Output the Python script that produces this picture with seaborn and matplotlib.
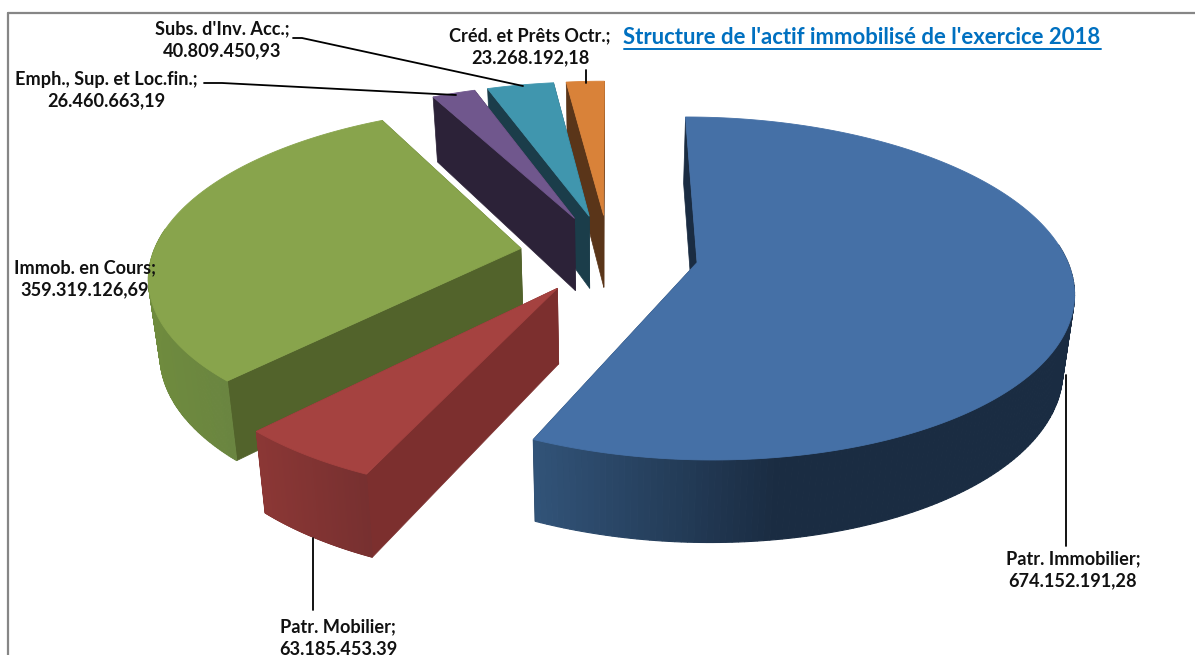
# Exploded 3D pie of fixed assets, drawn as projected polygons
import numpy as np
import matplotlib
matplotlib.use('Agg')
import matplotlib.pyplot as plt
import seaborn as sns

# Data
categories = ['Patr. Immobilier', 'Patr. Mobilier', 'Immob. en Cours',
              'Emph., Sup. et Loc.fin.', "Subs. d'Inv. Acc.", 'Créd. et Prêts Octr.']
values = [674152191.28, 63185453.39, 359319126.69, 26460663.19, 40809450.93, 23268192.18]
title = "Structure de l'actif immobilisé de l'exercice 2018"

# Colours
top_colors = sns.color_palette(['#4570a6', '#a54240', '#88a44c', '#70578d', '#4096ae', '#d98239'])
wall_colors = sns.color_palette(['#1a2c42', '#7c2f2e', '#52632b', '#2c2238', '#1b3d4a', '#5a3519'])
arc_left = sns.color_palette(['#325479', '#8b3735', '#6f8b3e', '#2c2238', '#1b3d4a', '#5a3519'])
arc_right = sns.color_palette(['#1a2c42', '#773030', '#6a8540', '#2c2238', '#1b3d4a', '#5a3519'])

# Projection settings
CX, CY = 609, 254
RX, RY = 368, 165
PERSP = 0.15
EXPLODE = 0.243
DEPTH = 74
SHRINK = 0.975


def project(u, v, bottom=False):
    s = 1 / (1 - PERSP * v)
    x = RX * u * s
    y = CY + RY * v * s
    if bottom:
        x = x * SHRINK
        y = y + DEPTH * (1 + 0.11 * v)
    return CX + x, y


sns.set_theme(style='white')
plt.rcParams['font.family'] = ['Lato', 'DejaVu Sans']

fig = plt.figure(figsize=(11.95, 6.55), dpi=100)
ax = fig.add_axes([0, 0, 1, 1])
ax.set_xlim(0, 1195)
ax.set_ylim(655, 0)
ax.axis('off')

# Chart frame
ax.plot([8, 8], [655, 13], color='#868686', lw=1.6)
ax.plot([8, 1195], [13, 13], color='#868686', lw=1.6)

# Slice angles, clockwise from 12 o'clock
fractions = np.array(values) / np.sum(values)
ends = np.cumsum(fractions) * 2 * np.pi
starts = ends - fractions * 2 * np.pi

# Painter's order, back to front
for i in [5, 4, 3, 2, 0, 1]:
    mid = (starts[i] + ends[i]) / 2
    ox, oy = EXPLODE * np.sin(mid), -EXPLODE * np.cos(mid)
    a = np.linspace(starts[i], ends[i], 240)
    u = ox + np.sin(a)
    v = oy - np.cos(a)

    # radial walls
    for k in [0, -1]:
        xa, ya = project(ox, oy)
        xb, yb = project(u[k], v[k])
        xc, yc = project(u[k], v[k], True)
        xd, yd = project(ox, oy, True)
        ax.fill([xa, xb, xc, xd], [ya, yb, yc, yd], color=wall_colors[i], lw=0.5, zorder=3)

    # outer wall, shaded strip by strip (back of the arc stays hidden)
    xt, yt = project(u, v)
    xl, yl = project(u, v, True)
    front = np.cos(a) < 0.12
    if front.any():
        xmin, xmax = xt[front].min(), xt[front].max()
        for k in range(len(a) - 1):
            if not front[k]:
                continue
            t = np.clip((xt[k] - xmin) / max(xmax - xmin, 1), 0, 1)
            if i == 0:
                t = min(t * 2.2, 1)
            c = np.array(arc_left[i]) * (1 - t) + np.array(arc_right[i]) * t
            ax.fill([xt[k], xt[k + 1], xl[k + 1], xl[k]], [yt[k], yt[k + 1], yl[k + 1], yl[k]],
                    color=c, lw=0.8, zorder=3)

    # top face
    xa, ya = project(ox, oy)
    ax.fill(np.r_[xa, xt], np.r_[ya, yt], color=top_colors[i], lw=0.6, zorder=3)


def fmt(val):
    return f'{val:,.2f}'.replace(',', ' ').replace('.', ',').replace(' ', '.')


# Labels
label_pos = [(1073, 570), (338, 638), (85, 279), (106, 90), (222, 40), (530, 47)]
for name, val, (lx, ly) in zip(categories, values, label_pos):
    ax.text(lx, ly, f'{name};\n{fmt(val)}', ha='center', va='center', fontsize=13.1,
            fontweight='bold', color='#111111', linespacing=1.33, zorder=5)

# Leader lines
leaders = [([1066, 1066], [375, 546]), ([313, 313], [538, 610]),
           ([204, 222, 456], [83, 83, 95]), ([293, 302, 523], [38, 38, 86]),
           ([586, 586], [70, 83])]
for lx, ly in leaders:
    ax.plot(lx, ly, color='black', lw=1.3, zorder=4)

# Title with its underline
ax.text(862, 37, title, ha='center', va='center', fontsize=15.9, fontweight='bold',
        color='#0070c0', zorder=5)
ax.plot([624, 1101], [48.5, 48.5], color='#0070c0', lw=1.4, zorder=5)

fig.savefig('out.png', dpi=100, facecolor='white')
